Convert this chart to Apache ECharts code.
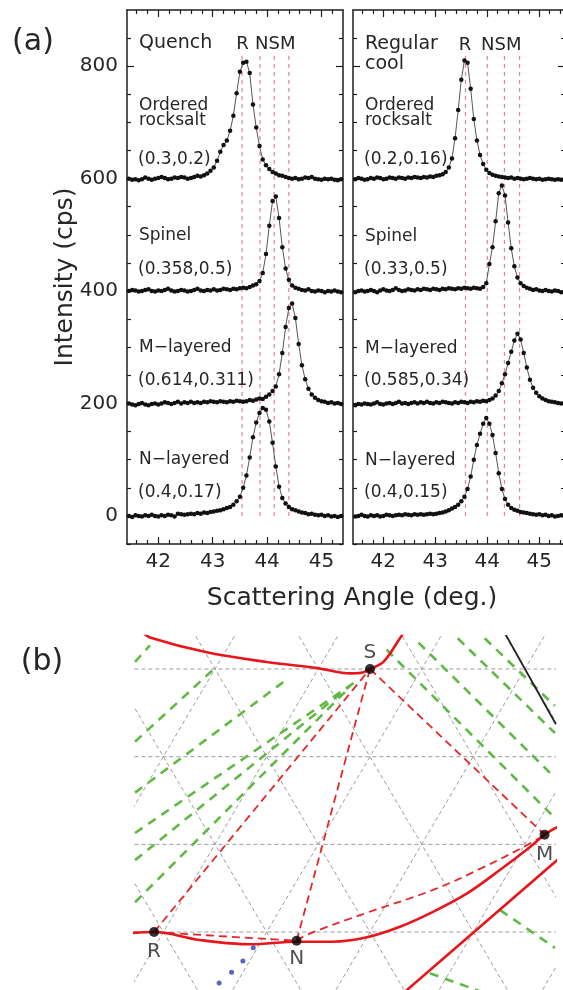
<!DOCTYPE html>
<html><head><meta charset="utf-8">
<script src="https://cdn.jsdelivr.net/npm/echarts@6/dist/echarts.min.js"></script>
<style>html,body{margin:0;padding:0;background:#fff}#c{width:563px;height:990px}</style>
</head><body><div id="c"></div>
<script>
// ---------------- DATA : panel (a) ----------------
const angles = [41.40,41.46,41.52,41.58,41.64,41.70,41.76,41.82,41.88,41.94,
 42.00,42.06,42.12,42.18,42.24,42.30,42.36,42.42,42.48,42.54,
 42.60,42.66,42.72,42.78,42.84,42.90,42.96,43.02,43.08,43.14,
 43.20,43.26,43.32,43.38,43.44,43.50,43.56,43.62,43.68,43.74,
 43.80,43.86,43.92,43.98,44.04,44.10,44.16,44.22,44.28,44.34,
 44.40,44.46,44.52,44.58,44.64,44.70,44.76,44.82,44.88,44.94,
 45.00,45.06,45.12,45.18,45.24,45.30,45.36,45.42,45.48];

const quenchRocksalt = [601,600,598,599,597,599,602,600,598,600,
 601,603,601,599,600,602,601,603,602,600,
 601,603,605,604,606,609,614,620,632,648,
 660,668,685,712,752,790,806,808,788,732,
 691,658,634,624,617,612,609,606,605,603,
 601,600,601,599,600,602,601,603,600,599,
 598,600,599,600,598,597,599,598,599];
const quenchSpinel = [399,400,402,401,399,400,402,403,400,399,
 401,400,402,404,401,399,400,402,401,399,
 400,402,404,401,400,402,401,403,401,402,
 404,403,402,404,403,405,406,405,407,410,
 412,418,432,466,516,560,568,530,478,440,
 420,410,406,404,402,401,403,400,399,401,
 400,398,400,399,401,399,398,400,399];
const quenchMLayered = [199,200,198,197,199,201,198,197,199,200,
 198,200,202,201,199,201,203,200,202,201,
 203,201,202,201,203,202,204,203,202,204,
 203,202,204,203,205,204,203,204,206,205,
 207,209,208,212,216,222,230,252,290,336,
 370,378,352,306,268,243,226,216,210,206,
 204,203,201,202,200,201,199,200,201];
const quenchNLayered = [1,0,-2,1,0,-1,1,0,2,0,
 -1,1,0,2,1,-1,4,3,2,3,
 4,3,5,4,6,5,7,8,9,10,
 12,14,16,20,26,34,50,72,104,140,
 166,183,192,189,168,130,88,52,32,22,
 16,12,10,8,6,5,3,4,2,1,
 2,0,1,-1,0,-2,0,-1,0];

const regularRocksalt = [600,599,601,600,598,599,601,600,602,601,
 599,600,602,601,600,602,601,600,602,601,
 603,602,601,603,602,604,603,605,606,608,
 612,620,636,672,722,776,810,806,760,706,
 668,642,626,616,610,607,605,604,603,602,
 601,602,600,601,600,599,600,601,600,599,
 600,598,599,600,599,598,599,598,599];
const regularSpinel = [399,398,400,401,399,400,402,400,398,401,
 403,401,400,402,405,402,400,401,403,402,
 401,403,402,404,403,402,404,403,402,404,
 403,405,404,403,405,404,406,405,404,406,
 405,404,407,414,448,478,524,574,588,570,
 522,476,444,424,414,409,406,404,402,403,
 401,400,402,400,399,401,400,398,399];
const regularMLayered = [198,197,199,198,200,199,198,200,202,199,
 198,200,201,199,201,203,200,201,199,201,
 202,200,202,201,203,201,200,202,201,203,
 202,201,200,202,201,203,202,201,203,202,
 204,203,205,204,206,209,214,222,236,252,
 272,292,312,324,314,290,264,242,228,219,
 213,209,206,204,203,202,201,200,201];
const regularNLayered = [1,-1,0,2,0,-1,1,0,1,-1,
 0,2,1,0,1,2,1,3,2,1,
 3,2,3,2,3,4,3,4,5,6,
 8,10,13,16,20,26,34,48,70,100,
 126,146,164,174,164,144,112,76,48,30,
 20,14,11,9,7,6,5,4,3,2,
 3,1,2,0,1,-1,0,1,0];

const refLinesQuench = [43.54, 43.87, 44.13, 44.40];   // R N S M
const refLinesRegular = [43.58, 44.00, 44.33, 44.62];
const refLineTop = 825;

const xTickValues = [42, 43, 44, 45];
const xMinorTickValues = [41.6,41.8,42.2,42.4,42.6,42.8,43.2,43.4,43.6,43.8,44.2,44.4,44.6,44.8,45.2,45.4];
const yTickValues = [0, 200, 400, 600, 800];
const yMinorTickValues = [-50,50,100,150,250,300,350,450,500,550,650,700,750,850];

// ---------------- DATA : panel (b) (lattice units) ----------------
const latticeRows = [0, 1, 2, 3];
const latticeDiagDown = [0.5, 1.5, 2.5, 3.5, 4.5, 5.5];   // x + y/2 = c
const latticeDiagUp = [-0.5, 0.5, 1.5, 2.5, 3.5, 4.5];    // x - y/2 = c

const phaseNames = ['S', 'R', 'N', 'M'];
const phaseX = [2.50, 0.41, 1.79, 4.19];
const phaseY = [3.00, 0.00, -0.10, 1.11];

const redTopCurve = [[0.30,3.42],[0.37,3.36],[0.92,3.19],[1.50,3.08],[1.99,3.01],[2.31,2.95],[2.43,2.96],[2.50,3.00],[2.63,3.08],[2.79,3.35],[2.83,3.42]];
const redBottomCurve = [[0.20,-0.01],[0.41,0.00],[0.85,-0.09],[1.34,-0.14],[1.79,-0.11],[2.14,-0.11],[2.47,-0.06],[2.79,0.06],[3.11,0.23],[3.44,0.44],[3.76,0.71],[4.05,0.97],[4.19,1.11],[4.32,1.20]];
const redSolidLine = [[2.80,-0.72],[4.35,0.86]];
const redDashedLines = [
  [[0.41,0.00],[2.50,3.00]],
  [[1.79,-0.10],[2.50,3.00]],
  [[2.50,3.00],[4.19,1.11]],
  [[0.41,0.00],[1.79,-0.10]]
];
const redDashedCurveNM = [[1.79,-0.10],[1.89,-0.03],[2.47,0.22],[3.11,0.48],[3.60,0.74],[4.05,1.01],[4.19,1.11]];
const greenDashedLines = [
  [[0.226,3.08],[0.37,3.27]],
  [[0.226,2.17],[0.98,2.99]],
  [[0.226,1.59],[1.66,2.85]],
  [[0.226,1.13],[2.38,2.87]],
  [[0.226,0.82],[2.31,2.81]],
  [[0.226,0.34],[2.26,2.74]],
  [[2.66,3.22],[4.29,1.30]],
  [[2.97,3.30],[4.29,1.76]],
  [[3.35,3.35],[4.29,2.27]],
  [[3.61,3.35],[4.29,2.58]],
  [[3.76,0.25],[4.29,-0.18]],
  [[3.08,-0.47],[3.60,-0.69]]
];
const blackLine = [[3.81,3.40],[4.30,2.37]];
const blueDots = [[1.37,-0.18],[1.27,-0.33],[1.16,-0.46],[1.04,-0.58]];

// ---------------- CHART ----------------
const FONT = 'DejaVu Sans';
const INK = '#262626';
const FRAME = '#1e1e1e';
const xAxes = [], yAxes = [], grids = [], series = [];

function addPanel(gi, xMin, xMax, yMin, yMax, showY) {
  const xb = xAxes.length, yb = yAxes.length;
  const ts = {color: FRAME, width: 1.2};
  const mk = (pos, main, minor, labels, isX) => ({
    gridIndex: gi, type: 'value', min: isX ? xMin : yMin, max: isX ? xMax : yMax, position: pos,
    axisLine: {show: main, onZero: false, lineStyle: {color: FRAME, width: 1.5}},
    axisTick: {show: true, inside: true, length: minor ? 4 : 7,
      customValues: isX ? (minor ? xMinorTickValues : xTickValues) : (minor ? yMinorTickValues : yTickValues), lineStyle: ts},
    axisLabel: labels ? {show: true, customValues: isX ? xTickValues : yTickValues, margin: isX ? 8 : 9,
      fontFamily: FONT, fontSize: 20, color: INK} : {show: false},
    splitLine: {show: false}
  });
  xAxes.push(mk('bottom', true, false, true, true));
  xAxes.push(mk('bottom', false, true, false, true));
  xAxes.push(mk('top', true, false, false, true));
  xAxes.push(mk('top', false, true, false, true));
  yAxes.push(mk('left', true, false, showY, false));
  yAxes.push(mk('left', false, true, false, false));
  yAxes.push(mk('right', true, false, false, false));
  yAxes.push(mk('right', false, true, false, false));
  return [xb, yb];
}

grids.push({left: 127, top: 10, width: 216, height: 534, outerBoundsMode: 'none'});
grids.push({left: 353, top: 10, width: 212, height: 534, outerBoundsMode: 'none'});
grids.push({left: 135, top: 636, width: 420, height: 354, outerBoundsMode: 'none'});

const [qx, qy] = addPanel(0, 41.425, 45.395, -50, 900, true);
const [rx, ry] = addPanel(1, 41.417, 45.494, -50, 900, false);

function addCurves(xi, yi, list, refs) {
  refs.forEach(a => series.push({type: 'line', xAxisIndex: xi, yAxisIndex: yi, silent: true, symbol: 'none', z: 1,
    data: [[a, 0], [a, refLineTop]], lineStyle: {color: '#e58c8c', width: 1.3, type: [4, 4]}}));
  list.forEach(vals => series.push({type: 'line', xAxisIndex: xi, yAxisIndex: yi, z: 3,
    data: angles.map((a, i) => [a, vals[i]]), symbol: 'circle', symbolSize: 4.5, showAllSymbol: true,
    itemStyle: {color: '#111'}, lineStyle: {color: '#555', width: 1}}));
}
addCurves(qx, qy, [quenchRocksalt, quenchSpinel, quenchMLayered, quenchNLayered], refLinesQuench);
addCurves(rx, ry, [regularRocksalt, regularSpinel, regularMLayered, regularNLayered], refLinesRegular);

// panel (b)
const bx = xAxes.length, by = yAxes.length;
xAxes.push({gridIndex: 2, type: 'value', min: 0.2256, max: 4.291, show: false});
yAxes.push({gridIndex: 2, type: 'value', min: -0.661, max: 3.376, show: false});
function seg(data, color, width, type, z, smooth) {
  series.push({type: 'line', xAxisIndex: bx, yAxisIndex: by, data: data, symbol: 'none', silent: true, z: z,
    smooth: smooth || false, clip: true, lineStyle: {color: color, width: width, type: type}});
}
const grey = '#9c9c9c';
latticeRows.forEach(h => seg([[-1, h], [6, h]], grey, 1, [4, 3], 1));
latticeDiagDown.forEach(c => seg([[c + 0.5, -1], [c - 2, 4]], grey, 1, [4, 3], 1));
latticeDiagUp.forEach(c => seg([[c - 0.5, -1], [c + 2, 4]], grey, 1, [4, 3], 1));
greenDashedLines.forEach(l => seg(l, '#62b845', 2.6, [9, 7], 2));
redDashedLines.forEach(l => seg(l, '#e5262a', 1.8, [8, 5], 3));
seg(redDashedCurveNM, '#e5262a', 1.8, [8, 5], 3, 0.4);
seg(redTopCurve, '#e8161b', 2.6, 'solid', 4, 0.35);
seg(redBottomCurve, '#e8161b', 2.6, 'solid', 4, 0.35);
seg(redSolidLine, '#e8161b', 2.6, 'solid', 4);
seg(blackLine, '#222', 1.8, 'solid', 4);
series.push({type: 'scatter', xAxisIndex: bx, yAxisIndex: by, data: blueDots, symbolSize: 5, z: 5,
  itemStyle: {color: '#2c3fb0'}, silent: true});
const labelPlace = {S: 'top', R: 'bottom', N: 'bottom', M: 'bottom'};
const labelGap = {S: 1, R: 5, N: 3, M: 5};
series.push({type: 'scatter', xAxisIndex: bx, yAxisIndex: by, z: 6, symbolSize: 10, silent: true,
  itemStyle: {color: '#000'},
  data: phaseNames.map((n, i) => ({name: n, value: [phaseX[i], phaseY[i]],
    label: {show: true, position: labelPlace[n], distance: labelGap[n], formatter: '{b}',
      fontFamily: FONT, fontSize: 20, color: '#222'}}))});

// text annotations (layout)
function txt(t, x, y, size, align, rot) {
  return {type: 'text', x: x, y: y, rotation: rot || 0, silent: true, z: 10,
    style: {text: t, fill: INK, font: size + 'px "' + FONT + '"',
      textAlign: align || 'left', align: align || 'left', textVerticalAlign: 'middle', verticalAlign: 'middle'}};
}
const graphics = [
  txt('(a)', 33, 42, 30, 'center'),
  txt('(b)', 42, 662, 30, 'center'),
  txt('Intensity (cps)', 65, 277, 25, 'center', Math.PI / 2),
  txt('Scattering Angle (deg.)', 352, 598, 25, 'center'),
  txt('Quench', 139, 43, 19),
  txt('R', 242.5, 44, 18, 'center'),
  txt('NSM', 255, 44, 18),
  txt('Ordered', 139, 106, 17),
  txt('rocksalt', 139, 121, 17),
  txt('(0.3,0.2)', 138, 160, 17),
  txt('Spinel', 139, 236, 17),
  txt('(0.358,0.5)', 138, 270, 17),
  txt('M\u2212layered', 139, 348, 17),
  txt('(0.614,0.311)', 138, 381, 17),
  txt('N\u2212layered', 139, 460, 17),
  txt('(0.4,0.17)', 138, 493, 17),
  txt('Regular', 365, 44, 19),
  txt('cool', 365, 64, 19),
  txt('R', 465, 45, 18, 'center'),
  txt('NSM', 481, 45, 18),
  txt('Ordered', 365, 106, 17),
  txt('rocksalt', 365, 121, 17),
  txt('(0.2,0.16)', 364, 160, 17),
  txt('Spinel', 365, 237, 17),
  txt('(0.33,0.5)', 364, 270, 17),
  txt('M\u2212layered', 365, 349, 17),
  txt('(0.585,0.34)', 364, 381, 17),
  txt('N\u2212layered', 365, 461, 17),
  txt('(0.4,0.15)', 364, 493, 17)
];

const chart = echarts.init(document.getElementById('c'), null, {renderer: 'canvas'});
chart.setOption({
  backgroundColor: '#fff',
  animation: false,
  grid: grids,
  xAxis: xAxes,
  yAxis: yAxes,
  series: series,
  graphic: graphics
});
</script>
</body></html>
